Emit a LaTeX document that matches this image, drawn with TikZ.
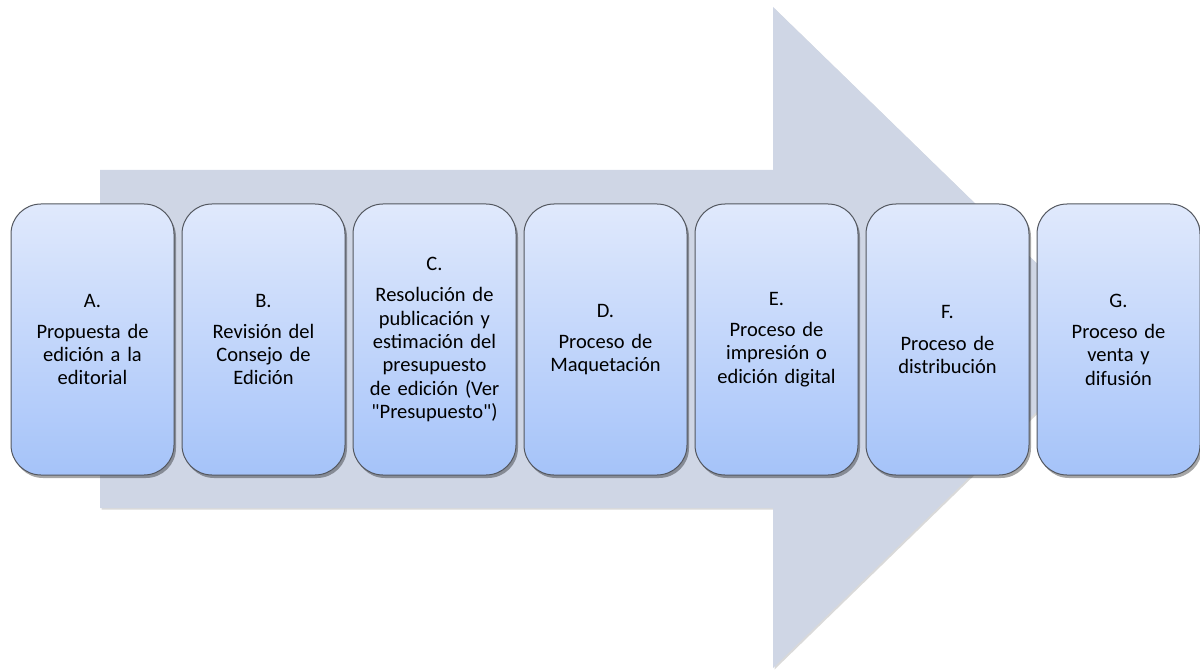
\documentclass[tikz,border=0pt]{standalone}
\usepackage{fontspec}
\setmainfont{Carlito}[Ligatures=TeXOff]
\usetikzlibrary{shadows}
\definecolor{arrowfill}{HTML}{CFD6E5}
\definecolor{boxtop}{HTML}{E0E9FC}
\definecolor{boxbot}{HTML}{A5C3F9}
\definecolor{boxline}{HTML}{53575F}
\tikzset{
  stage/.style={draw=boxline, line width=1pt, rounded corners=30pt,
    minimum width=161pt, minimum height=271pt, inner sep=4pt,
    top color=boxtop, bottom color=boxbot, align=center, text width=155pt,
    font=\fontsize{20.5}{23.3}\selectfont,
    drop shadow={shadow xshift=2pt, shadow yshift=-3pt, opacity=0.35, fill=black}},
  bigarrow/.style={fill=arrowfill, draw=none,
    drop shadow={shadow xshift=1.5pt, shadow yshift=-1.5pt, opacity=0.15, fill=black}}
}
\begin{document}
\begin{tikzpicture}[x=1pt,y=-1pt]
\useasboundingbox (0,0) rectangle (1200,671);
\coordinate (b1) at (100,170);
\coordinate (b2) at (773,170);
\coordinate (h1) at (773,7);
\coordinate (tip) at (1113,337.5);
\coordinate (h2) at (773,668);
\coordinate (b3) at (773,508);
\coordinate (b4) at (100,508);
\path[bigarrow] (b1) -- (b2) -- (h1) -- (tip) -- (h2) -- (b3) -- (b4) -- cycle;
\node[stage] (A) at (92.5,339.5) {A.\\[8pt]Propuesta de\\edición a la\\editorial};
\node[stage] (B) at (263.5,339.5) {B.\\[8pt]Revisión del\\Consejo de\\Edición};
\node[stage] (C) at (434.5,339.5) {C.\\[8pt]Resolución de\\publicación y\\estimación del\\presupuesto\\de edición (Ver\\\char34Presupuesto\char34)};
\node[stage] (D) at (605.5,339.5) {D.\\[8pt]Proceso de\\Maquetación};
\node[stage] (E) at (776.5,339.5) {E.\\[8pt]Proceso de\\impresión o\\edición digital};
\node[stage] (F) at (947.5,339.5) {F.\\[8pt]Proceso de\\distribución};
\node[stage] (G) at (1118.5,339.5) {G.\\[8pt]Proceso de\\venta y\\difusión};
\end{tikzpicture}
\end{document}
